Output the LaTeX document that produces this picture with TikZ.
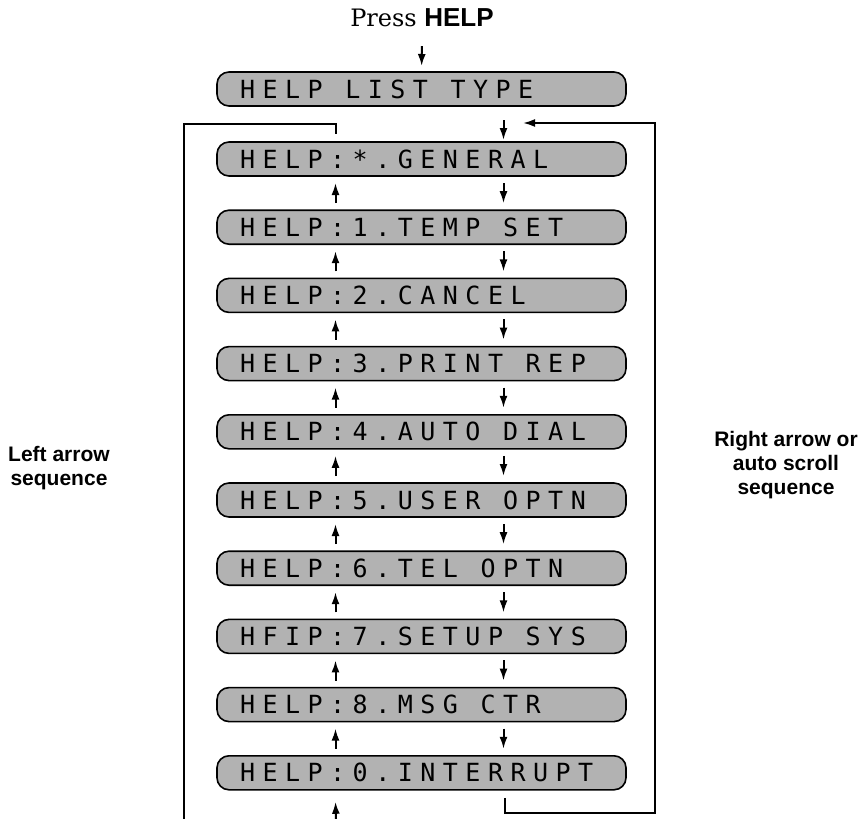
\documentclass[tikz,border=0pt]{standalone}
\usepackage{fontspec}
\setmainfont{DejaVu Serif}
\newfontfamily\lcdfont[LetterSpace=30]{DejaVu Sans Mono}
\newfontfamily\labelfont{Liberation Sans}
\newcommand{\lcdgap}{\hspace{11.3pt}}
\usetikzlibrary{shapes,arrows.meta,positioning}
\tikzstyle{lcd}=[rectangle, draw=black, line width=0.8pt, outer sep=0pt, rounded corners=6pt, fill=black!30, minimum height=17pt, inner xsep=11.5pt, inner ysep=0pt, text width=181.5pt, align=left, font=\lcdfont\fontsize{12.5}{13}\selectfont]
\tikzstyle{side}=[align=center, font=\labelfont\bfseries\fontsize{10.5}{12}\selectfont]
\tikzstyle{flow}=[line width=1pt, -{Latex[length=6pt,width=4pt]}]
\tikzstyle{loop}=[line width=1pt]

\begin{document}
\begin{tikzpicture}[x=0.5pt, y=-0.5pt, node distance=17.1pt]
    \useasboundingbox (0,0) rectangle (864,819);
    \node (press) at (422,18) {\fontsize{12}{14}\selectfont Press {\labelfont\bfseries\fontsize{13}{14}\selectfont HELP}};
    \node (type) [lcd] at (421.5,89) {HELP\lcdgap LIST\lcdgap TYPE};
    \node (gen) [lcd, below=18pt of type] {HELP:*.GENERAL};
    \node (temp) [lcd, below=of gen] {HELP:1.TEMP\lcdgap SET};
    \node (cancel) [lcd, below=of temp] {HELP:2.CANCEL};
    \node (rep) [lcd, below=of cancel] {HELP:3.PRINT\lcdgap REP};
    \node (dial) [lcd, below=of rep] {HELP:4.AUTO\lcdgap DIAL};
    \node (user) [lcd, below=of dial] {HELP:5.USER\lcdgap OPTN};
    \node (tel) [lcd, below=of user] {HELP:6.TEL\lcdgap OPTN};
    \node (setup) [lcd, below=of tel] {HFIP:7.SETUP\lcdgap SYS};
    \node (msg) [lcd, below=of setup] {HELP:8.MSG\lcdgap CTR};
    \node (intr) [lcd, below=of msg] {HELP:0.INTERRUPT};

    \node (lseq) [side] at (59,468) {Left arrow\\sequence};
    \node (rseq) [side] at (786,465) {Right arrow or\\auto scroll\\sequence};

    % corners of the two loops
    \coordinate (ltop) at (184,124);
    \coordinate (lbot) at (184,819);
    \coordinate (upin) at (336,819);
    \coordinate (rbot) at (655,813);
    \coordinate (rtop) at (655,123);
    \coordinate (rin) at (523,123);

    \path[flow] (press) edge[shorten <=6pt, shorten >=3pt] (type);
    \path[flow] ([xshift=41pt]type.south) edge[shorten <=7pt, shorten >=1pt] ([xshift=41pt]gen.north);
    \path[flow] ([xshift=41pt]gen.south) edge[shorten <=3.5pt, shorten >=3.5pt] ([xshift=41pt]temp.north);
    \path[flow] ([xshift=41pt]temp.south) edge[shorten <=3.5pt, shorten >=3.5pt] ([xshift=41pt]cancel.north);
    \path[flow] ([xshift=41pt]cancel.south) edge[shorten <=3.5pt, shorten >=3.5pt] ([xshift=41pt]rep.north);
    \path[flow] ([xshift=41pt]rep.south) edge[shorten <=3.5pt, shorten >=3.5pt] ([xshift=41pt]dial.north);
    \path[flow] ([xshift=41pt]dial.south) edge[shorten <=3.5pt, shorten >=3.5pt] ([xshift=41pt]user.north);
    \path[flow] ([xshift=41pt]user.south) edge[shorten <=3.5pt, shorten >=3.5pt] ([xshift=41pt]tel.north);
    \path[flow] ([xshift=41pt]tel.south) edge[shorten <=3.5pt, shorten >=3.5pt] ([xshift=41pt]setup.north);
    \path[flow] ([xshift=41pt]setup.south) edge[shorten <=3.5pt, shorten >=3.5pt] ([xshift=41pt]msg.north);
    \path[flow] ([xshift=41pt]msg.south) edge[shorten <=3.5pt, shorten >=3.5pt] ([xshift=41pt]intr.north);

    \path[flow] ([xshift=-43pt]temp.north) edge[shorten <=3.5pt, shorten >=3.5pt] ([xshift=-43pt]gen.south);
    \path[flow] ([xshift=-43pt]cancel.north) edge[shorten <=3.5pt, shorten >=3.5pt] ([xshift=-43pt]temp.south);
    \path[flow] ([xshift=-43pt]rep.north) edge[shorten <=3.5pt, shorten >=3.5pt] ([xshift=-43pt]cancel.south);
    \path[flow] ([xshift=-43pt]dial.north) edge[shorten <=3.5pt, shorten >=3.5pt] ([xshift=-43pt]rep.south);
    \path[flow] ([xshift=-43pt]user.north) edge[shorten <=3.5pt, shorten >=3.5pt] ([xshift=-43pt]dial.south);
    \path[flow] ([xshift=-43pt]tel.north) edge[shorten <=3.5pt, shorten >=3.5pt] ([xshift=-43pt]user.south);
    \path[flow] ([xshift=-43pt]setup.north) edge[shorten <=3.5pt, shorten >=3.5pt] ([xshift=-43pt]tel.south);
    \path[flow] ([xshift=-43pt]msg.north) edge[shorten <=3.5pt, shorten >=3.5pt] ([xshift=-43pt]setup.south);
    \path[flow] ([xshift=-43pt]intr.north) edge[shorten <=3.5pt, shorten >=3.5pt] ([xshift=-43pt]msg.south);

    \draw[loop] (lbot) -- (ltop) -| ([xshift=-43pt,yshift=4pt]gen.north);
    \draw[flow] (upin) -- ([xshift=-43pt,yshift=-6pt]intr.south);
    \draw[flow] ([xshift=41.5pt,yshift=-4pt]intr.south) |- (rbot) -- (rtop) -- (rin);
\end{tikzpicture}
\end{document}
